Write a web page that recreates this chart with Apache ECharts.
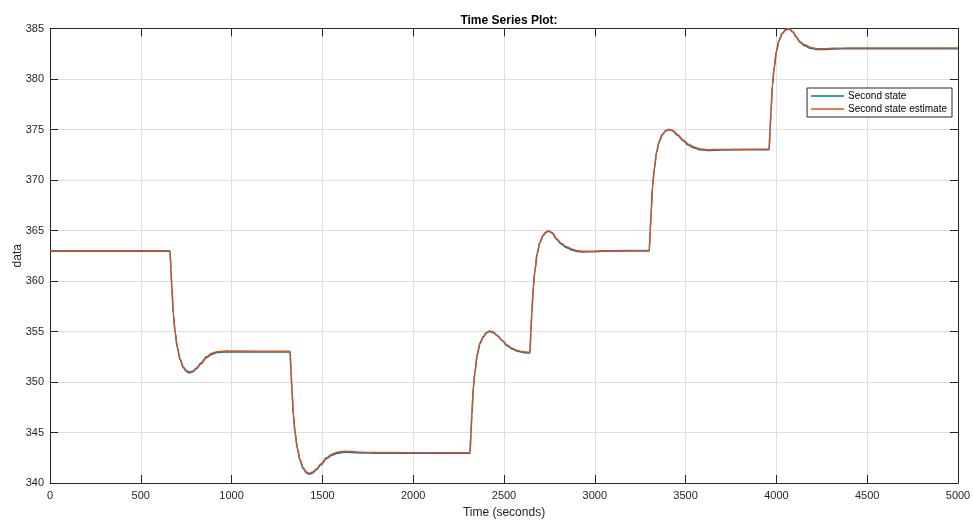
<!DOCTYPE html>
<html>
<head>
<meta charset="utf-8">
<script src="https://cdn.jsdelivr.net/npm/echarts@6/dist/echarts.min.js"></script>
<style>
  html, body { margin: 0; padding: 0; background: #ffffff; }
  #chart { width: 973px; height: 520px; }
</style>
</head>
<body>
<div id="chart"></div>
<script>
// Sample times (seconds)
const times = [
  0, 661, 666, 671, 679, 689, 701, 716, 734, 751, 767, 786, 806, 831, 861, 891, 921, 961, 1011, 1322,
  1327, 1332, 1340, 1350, 1362, 1377, 1395, 1412, 1428, 1447, 1467, 1492, 1522, 1552, 1582, 1620, 1660, 1720, 1800, 2313,
  2318, 2323, 2331, 2341, 2353, 2368, 2386, 2403, 2419, 2440, 2465, 2490, 2515, 2545, 2575, 2605, 2635, 2643,
  2648, 2653, 2661, 2671, 2683, 2698, 2716, 2730, 2744, 2765, 2790, 2815, 2845, 2875, 2905, 2937, 2980, 3050, 3300,
  3305, 3310, 3318, 3328, 3340, 3355, 3373, 3390, 3410, 3430, 3455, 3487, 3515, 3542, 3575, 3620, 3700, 3960,
  3965, 3970, 3978, 3988, 4000, 4015, 4033, 4050, 4069, 4090, 4110, 4130, 4155, 4185, 4222, 4260, 4320, 4400, 5000
];

// Second state (measured)
const secondState = [
  362.95, 362.95, 361.15, 359.3, 356.7, 354.9, 353.4, 352.2, 351.4, 351.05, 350.9, 351.0, 351.3, 351.8, 352.4, 352.75, 352.92, 352.97, 352.98, 352.98,
  351.1, 349.3, 346.7, 344.9, 343.4, 342.2, 341.4, 341.0, 340.87, 341.0, 341.3, 341.8, 342.4, 342.75, 342.95, 343.05, 343.03, 342.97, 342.95, 342.95,
  344.9, 346.7, 349.4, 351.1, 352.7, 353.8, 354.45, 354.85, 355.0, 354.9, 354.55, 354.1, 353.62, 353.27, 353.04, 352.93, 352.88, 352.88,
  354.9, 356.7, 359.3, 361.1, 362.7, 363.8, 364.5, 364.8, 364.94, 364.75, 364.12, 363.66, 363.3, 363.05, 362.92, 362.88, 362.9, 362.95, 362.98,
  364.9, 366.7, 369.3, 371.1, 372.7, 373.8, 374.5, 374.85, 374.97, 374.85, 374.42, 373.88, 373.46, 373.2, 373.0, 372.93, 372.97, 373.0,
  374.9, 376.7, 379.3, 381.1, 382.7, 383.8, 384.5, 384.85, 384.96, 384.65, 384.12, 383.62, 383.3, 383.05, 382.92, 382.93, 382.98, 383.0, 383.0
];

// Second state estimate
const secondStateEstimate = [
  363.0, 363.0, 361.2, 359.4, 356.8, 355.0, 353.5, 352.3, 351.5, 351.15, 351.0, 351.1, 351.4, 351.9, 352.5, 352.85, 353.0, 353.07, 353.07, 353.05,
  351.2, 349.4, 346.8, 345.0, 343.5, 342.3, 341.5, 341.1, 340.96, 341.1, 341.4, 341.9, 342.5, 342.85, 343.05, 343.15, 343.12, 343.05, 343.02, 343.0,
  345.0, 346.8, 349.5, 351.2, 352.8, 353.9, 354.5, 354.9, 355.05, 354.95, 354.6, 354.15, 353.7, 353.35, 353.12, 353.0, 352.94, 352.94,
  355.0, 356.8, 359.4, 361.2, 362.8, 363.9, 364.55, 364.85, 364.98, 364.8, 364.2, 363.75, 363.4, 363.15, 363.0, 362.95, 362.95, 363.0, 363.05,
  365.0, 366.8, 369.4, 371.2, 372.8, 373.9, 374.55, 374.9, 375.02, 374.9, 374.5, 373.96, 373.55, 373.3, 373.1, 373.0, 373.03, 373.07,
  375.0, 376.8, 379.4, 381.2, 382.8, 383.9, 384.55, 384.9, 385.0, 384.7, 384.2, 383.7, 383.4, 383.15, 383.0, 383.0, 383.05, 383.07, 383.07
];

const seriesNames = ['Second state', 'Second state estimate'];
const xRange = [0, 5000, 500];
const yRange = [340, 385, 5];

const FONT = '"Liberation Sans", Arial, Helvetica, sans-serif';
const AXIS_COLOR = '#262626';

function pairs(ys) {
  return times.map((t, i) => [t, ys[i]]);
}

// plain integer tick text, no thousands separators
function plain(v) {
  return String(v);
}

function boxAxis(base, extra) {
  return Object.assign({
    type: 'value',
    axisLine: { show: true, onZero: false, lineStyle: { color: AXIS_COLOR, width: 1 } },
    axisTick: { show: true, inside: true, length: 8, lineStyle: { color: AXIS_COLOR, width: 1 } },
    axisLabel: { show: false },
    splitLine: { show: false }
  }, base, extra);
}

const xBase = { min: xRange[0], max: xRange[1], interval: xRange[2] };
const yBase = { min: yRange[0], max: yRange[1], interval: yRange[2] };

const chart = echarts.init(document.getElementById('chart'), null, { renderer: 'canvas' });
chart.setOption({
  animation: false,
  backgroundColor: '#ffffff',
  title: {
    text: 'Time Series Plot:',
    left: 504,
    top: 10,
    textAlign: 'center',
    textStyle: { fontFamily: FONT, fontSize: 12, fontWeight: 'bold', color: '#000000' }
  },
  grid: { left: 50, right: 15, top: 28.5, bottom: 37, containLabel: false, outerBoundsMode: 'none' },
  legend: {
    orient: 'vertical',
    right: 21,
    top: 88,
    data: seriesNames,
    icon: 'rect',
    itemWidth: 33,
    itemHeight: 1.4,
    itemGap: 3,
    padding: [3, 5, 3, 4],
    backgroundColor: '#ffffff',
    borderColor: AXIS_COLOR,
    borderWidth: 1,
    borderRadius: 0,
    textStyle: { fontFamily: FONT, fontSize: 10, lineHeight: 10, color: '#000000', padding: [0, 0, 0, -1] }
  },
  xAxis: [
    boxAxis(xBase, {
      position: 'bottom',
      name: 'Time (seconds)',
      nameLocation: 'middle',
      nameGap: 24,
      nameTextStyle: { fontFamily: FONT, fontSize: 12, color: AXIS_COLOR },
      axisLabel: { show: true, margin: 7, fontFamily: FONT, fontSize: 11, color: AXIS_COLOR, formatter: plain },
      splitLine: { show: true, lineStyle: { color: '#dfdfdf', width: 1 } }
    }),
    boxAxis(xBase, { position: 'top' })
  ],
  yAxis: [
    boxAxis(yBase, {
      position: 'left',
      name: 'data',
      nameLocation: 'middle',
      nameGap: 26.5,
      nameMoveOverlap: false,
      nameRotate: 90,
      nameTextStyle: { fontFamily: FONT, fontSize: 12, color: AXIS_COLOR },
      axisLabel: { show: true, margin: 6, fontFamily: FONT, fontSize: 11, color: AXIS_COLOR, formatter: plain },
      splitLine: { show: true, lineStyle: { color: '#dfdfdf', width: 1 } }
    }),
    boxAxis(yBase, { position: 'right' })
  ],
  series: [
    {
      name: seriesNames[0],
      type: 'line',
      data: pairs(secondState),
      xAxisIndex: 0,
      yAxisIndex: 0,
      symbol: 'none',
      smooth: 0.3,
      smoothMonotone: 'x',
      lineStyle: { color: '#0072BD', width: 1.5 },
      itemStyle: { color: '#0072BD' }
    },
    {
      name: seriesNames[1],
      type: 'line',
      data: pairs(secondStateEstimate),
      xAxisIndex: 0,
      yAxisIndex: 0,
      symbol: 'none',
      smooth: 0.3,
      smoothMonotone: 'x',
      lineStyle: { color: '#D95319', width: 1.4 },
      itemStyle: { color: '#D95319' }
    }
  ]
});
</script>
</body>
</html>
